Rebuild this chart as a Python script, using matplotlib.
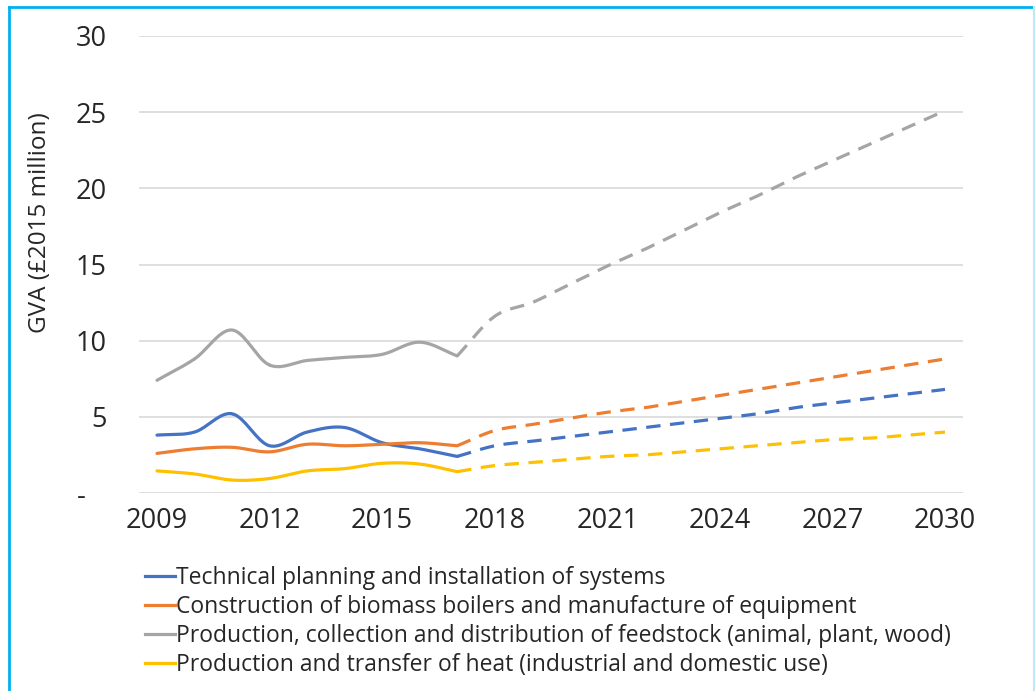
"""Biomass heat GVA by sector, history 2009-2017 and projection to 2030"""

import matplotlib
import matplotlib.pyplot as plt
import numpy as np
from matplotlib.lines import Line2D
from matplotlib.ticker import FuncFormatter

matplotlib.use("Agg")

plt.rcParams["font.family"] = ["Open Sans", "DejaVu Sans"]

# historical values (solid lines)
hist_years = [2009, 2010, 2011, 2012, 2013, 2014, 2015, 2016, 2017]
hist_planning = [3.8, 4.0, 5.2, 3.1, 4.0, 4.3, 3.3, 2.9, 2.4]
hist_boilers = [2.6, 2.9, 3.0, 2.7, 3.2, 3.1, 3.2, 3.3, 3.1]
hist_feedstock = [7.4, 8.8, 10.7, 8.4, 8.7, 8.9, 9.1, 9.9, 9.0]
hist_heat = [1.45, 1.25, 0.85, 0.95, 1.45, 1.6, 1.95, 1.9, 1.4]

# projected values (dashed lines)
proj_years = list(range(2017, 2031))
proj_planning = [2.4, 3.1, 3.4, 3.7, 4.0, 4.3, 4.6, 4.9, 5.2, 5.6, 5.9, 6.2, 6.5, 6.8]
proj_boilers = [3.1, 4.1, 4.5, 4.9, 5.3, 5.6, 6.0, 6.4, 6.8, 7.2, 7.6, 8.0, 8.4, 8.8]
proj_feedstock = [9.0, 11.6, 12.5, 13.7, 14.9, 16.0, 17.2, 18.4, 19.5, 20.7, 21.8, 22.9, 24.0, 25.1]
proj_heat = [1.4, 1.8, 2.0, 2.2, 2.4, 2.5, 2.7, 2.9, 3.1, 3.3, 3.5, 3.6, 3.8, 4.0]

labels = [
    "Technical planning and installation of systems",
    "Construction of biomass boilers and manufacture of equipment",
    "Production, collection and distribution of feedstock (animal, plant, wood)",
    "Production and transfer of heat (industrial and domestic use)",
]
colors = ["#4472C4", "#ED7D31", "#A5A5A5", "#FFC000"]


def smooth(x, y, n=20):
    """Catmull-Rom curve through the points, like Excel's smoothed line"""
    x = np.asarray(x, float)
    y = np.asarray(y, float)
    px = np.concatenate([[2 * x[0] - x[1]], x, [2 * x[-1] - x[-2]]])
    py = np.concatenate([[2 * y[0] - y[1]], y, [2 * y[-1] - y[-2]]])
    t = np.linspace(0, 1, n)[:, None]
    xs, ys = [], []
    for i in range(1, len(px) - 2):
        for p, out in ((px, xs), (py, ys)):
            p0, p1, p2, p3 = p[i - 1], p[i], p[i + 1], p[i + 2]
            seg = 0.5 * (2 * p1 + (-p0 + p2) * t + (2 * p0 - 5 * p1 + 4 * p2 - p3) * t**2
                         + (-p0 + 3 * p1 - 3 * p2 + p3) * t**3)
            out.append(seg.ravel())
    return np.concatenate(xs), np.concatenate(ys)


fig = plt.figure(figsize=(10.35, 6.91), dpi=100)
ax = fig.add_axes([139 / 1035, 1 - 493 / 691, (963 - 139) / 1035, (493 - 36) / 691])

hist = [hist_planning, hist_boilers, hist_feedstock, hist_heat]
proj = [proj_planning, proj_boilers, proj_feedstock, proj_heat]
for h, p, c in zip(hist, proj, colors):
    ax.plot(*smooth(hist_years, h), color=c, lw=2.3, solid_capstyle="round", zorder=3)
    ax.plot(*smooth(proj_years, p), color=c, lw=2.3, dashes=(4.5, 3), zorder=3)

ax.set_xlim(2008.52, 2030.48)
ax.set_ylim(0, 30)
ax.set_xticks(range(2009, 2031, 3))
ax.set_yticks(range(0, 31, 5))
ax.yaxis.set_major_formatter(FuncFormatter(lambda v, _: "-   " if v == 0 else f"{v:.0f}"))
ax.grid(axis="y", color="#D9D9D9", lw=1.2)
ax.set_axisbelow(True)
for s in ax.spines.values():
    s.set_visible(False)
ax.tick_params(axis="both", length=0, labelsize=19.5, colors="#262626")
ax.tick_params(axis="y", pad=23)
ax.tick_params(axis="x", pad=10)

fig.text(40 / 1035, 1 - 223 / 691, "GVA (£2015 million)", rotation=90, ha="center",
         va="center", fontsize=17.5, color="#262626")

handles = [Line2D([], [], color=c, lw=2.3) for c in colors]
fig.legend(handles, labels, loc="upper left", bbox_to_anchor=(145 / 1035, 1 - 566 / 691),
           frameon=False, fontsize=16.5, handlelength=1.3, handletextpad=0.05,
           labelspacing=0.22, borderpad=0, borderaxespad=0, labelcolor="#262626")

# cyan frame around the picture
fig.add_artist(Line2D([9 / 1035, 9 / 1035], [0, 1 - 7 / 691], color="#00B0F0", lw=2,
                      transform=fig.transFigure))
fig.add_artist(Line2D([9 / 1035, 1], [1 - 7 / 691, 1 - 7 / 691], color="#00B0F0", lw=2,
                      transform=fig.transFigure))
fig.add_artist(Line2D([1034 / 1035, 1034 / 1035], [0, 1 - 7 / 691], color="#BDE8F7", lw=1.5,
                      transform=fig.transFigure))

fig.savefig("out.png", dpi=100)
